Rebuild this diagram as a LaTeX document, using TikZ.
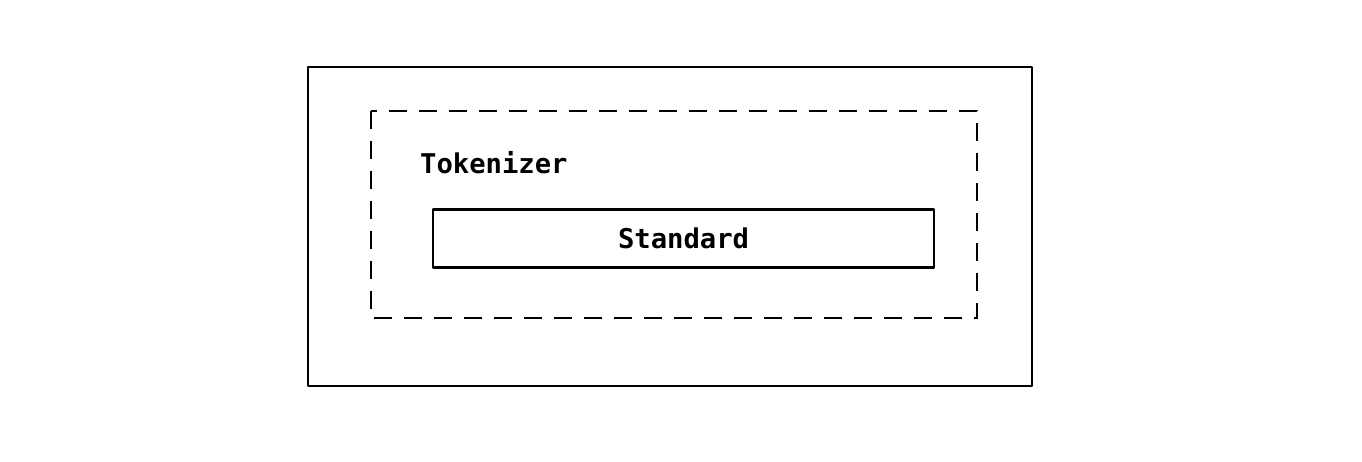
\documentclass[tikz,border=0pt]{standalone}
\usepackage{fontspec}
\setmonofont{DejaVu Sans Mono}
\tikzset{
  box/.style={draw=black, line width=2.3pt, line join=round},
  dbox/.style={draw=black, line width=2.2pt, dash pattern=on 18pt off 12pt},
  lbl/.style={font=\ttfamily\bfseries\fontsize{27.2}{31}\selectfont, inner sep=0pt}
}
\begin{document}
\begin{tikzpicture}[x=1pt,y=-1pt]
\useasboundingbox (0,0) rectangle (1362,462);
\fill[white] (0,0) rectangle (1362,462);
\draw[box] (308,67) rectangle (1032,386);
\draw[dbox] (371,111) rectangle (977,318);
\node[box, minimum width=501pt, minimum height=58pt, inner sep=0pt] (std) at (683.5,238.5) {};
\node[lbl] (stdtxt) at (std.center) {Standard};
\node[lbl, anchor=west] (tok) at (420,163) {Tokenizer};
\end{tikzpicture}
\end{document}
